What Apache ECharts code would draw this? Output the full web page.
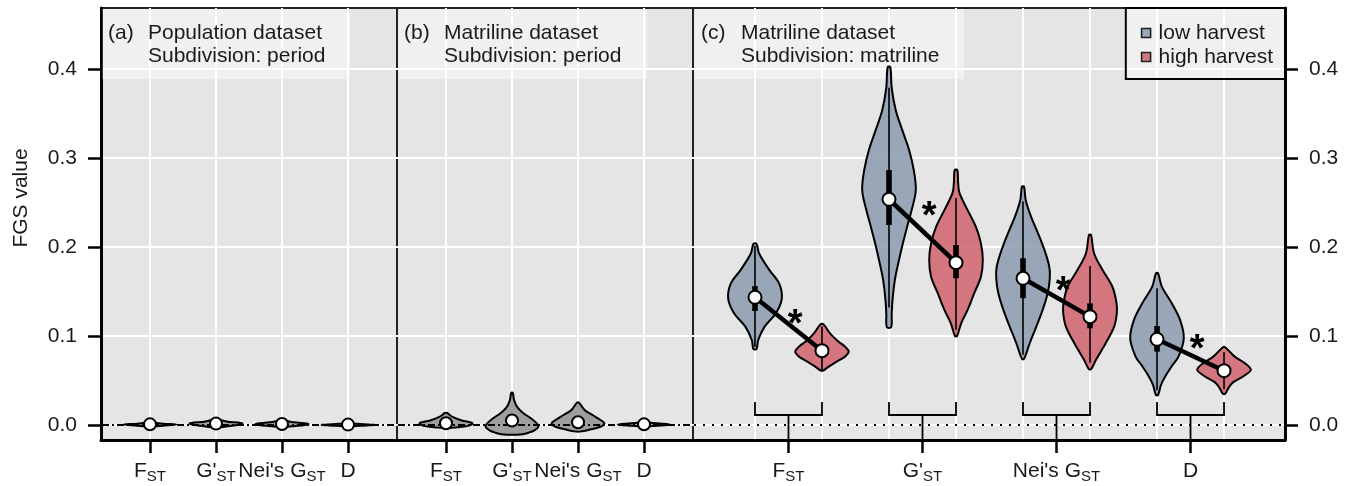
<!DOCTYPE html>
<html><head><meta charset="utf-8">
<script src="https://cdn.jsdelivr.net/npm/echarts@6/dist/echarts.min.js"></script>
<style>html,body{margin:0;padding:0;background:#fff}#chart{width:1352px;height:486px}</style>
</head><body><div id="chart"></div>
<script>
// ---------- data ----------
const categories = ['F_ST', "G'_ST", "Nei's G_ST", 'D'];
const yTicks = [0, 0.1, 0.2, 0.3, 0.4];
const legendNames = ['low harvest', 'high harvest'];
const panelTitles = [['(a)', 'Population dataset', 'Subdivision: period'],
                     ['(b)', 'Matriline dataset', 'Subdivision: period'],
                     ['(c)', 'Matriline dataset', 'Subdivision: matriline']];

// (a) Population dataset: violin outline knots (value, relative density width)
const popValues = [
  [-0.0018, -0.0008, 0.0005, 0.0015, 0.003],
  [-0.003, -0.001, 0.0015, 0.004, 0.0065],
  [-0.0022, -0.001, 0.001, 0.003, 0.0053],
  [-0.0015, -0.0008, 0.0, 0.0008, 0.0018]
];
const popWidths = [
  [0.04, 0.5, 1.0, 0.5, 0.04],
  [0.04, 0.6, 1.0, 0.4, 0.04],
  [0.04, 0.6, 1.0, 0.45, 0.04],
  [0.04, 0.5, 1.0, 0.6, 0.04]
];
const popMedians = [0.0007, 0.0015, 0.0011, 0.0004];

// (b) Matriline dataset, subdivision period
const perValues = [
  [-0.0035, -0.003, -0.001, 0.002, 0.005, 0.009, 0.0135],
  [-0.011, -0.0105, -0.009, -0.006, -0.002, 0.002, 0.0078, 0.0135, 0.02, 0.028, 0.036],
  [-0.0075, -0.0056, -0.002, 0.002, 0.0056, 0.0112, 0.0169, 0.025],
  [-0.0018, -0.001, 0.0005, 0.0018, 0.003]
];
const perWidths = [
  [0.04, 0.3, 0.85, 1.0, 0.6, 0.25, 0.04],
  [0.2, 0.4, 0.6, 0.85, 1.0, 0.93, 0.7, 0.42, 0.2, 0.08, 0.03],
  [0.05, 0.4, 0.85, 1.0, 0.85, 0.55, 0.25, 0.04],
  [0.04, 0.5, 1.0, 0.5, 0.04]
];
const perMedians = [0.002, 0.005, 0.003, 0.0007];

// (c) Matriline dataset, subdivision matriline — low harvest
const lowValues = [
  [0.0854, 0.0955, 0.1105, 0.1255, 0.142, 0.159, 0.174, 0.193, 0.2034],
  [0.110, 0.124, 0.14, 0.163, 0.185, 0.202, 0.222, 0.242, 0.264, 0.287, 0.309, 0.331, 0.354, 0.379, 0.402],
  [0.0742, 0.0918, 0.11, 0.129, 0.148, 0.1648, 0.1779, 0.1966, 0.2154, 0.234, 0.2528, 0.2678],
  [0.0337, 0.045, 0.0543, 0.066, 0.0768, 0.0974, 0.118, 0.1367, 0.1554, 0.1704]
];
const lowWidths = [
  [0.06, 0.12, 0.36, 0.78, 1.0, 0.9, 0.54, 0.15, 0.06],
  [0.08, 0.1, 0.13, 0.22, 0.37, 0.5, 0.67, 0.85, 1.0, 0.92, 0.75, 0.5, 0.25, 0.1, 0.05],
  [0.04, 0.25, 0.49, 0.73, 0.92, 1.0, 0.98, 0.8, 0.56, 0.3, 0.1, 0.04],
  [0.04, 0.15, 0.3, 0.55, 0.8, 1.0, 0.86, 0.55, 0.18, 0.04]
];
const lowMedians = [0.1435, 0.2536, 0.1648, 0.0963];
const lowQ1 = [0.128, 0.2247, 0.1424, 0.0824];
const lowQ3 = [0.156, 0.2865, 0.1873, 0.1112];
const lowMin = [0.088, 0.132, 0.079, 0.039];
const lowMax = [0.201, 0.379, 0.251, 0.1536];

// (c) high harvest
const highValues = [
  [0.061, 0.0655, 0.0711, 0.0768, 0.0824, 0.088, 0.0936, 0.103, 0.113],
  [0.1, 0.114, 0.129, 0.148, 0.1666, 0.1854, 0.204, 0.2228, 0.2416, 0.2607, 0.272, 0.2865],
  [0.0626, 0.073, 0.092, 0.1105, 0.1255, 0.1367, 0.155, 0.174, 0.193, 0.2135],
  [0.035, 0.039, 0.047, 0.0543, 0.0618, 0.0693, 0.0768, 0.0873]
];
const highWidths = [
  [0.04, 0.25, 0.55, 0.86, 1.0, 0.86, 0.62, 0.3, 0.06],
  [0.04, 0.19, 0.43, 0.68, 0.93, 1.0, 0.93, 0.74, 0.43, 0.13, 0.08, 0.05],
  [0.04, 0.22, 0.59, 0.9, 1.0, 0.99, 0.84, 0.47, 0.15, 0.04],
  [0.04, 0.12, 0.3, 0.7, 1.0, 0.78, 0.4, 0.04]
];
const highMedians = [0.0835, 0.1824, 0.1217, 0.061];
const highQ1 = [0.077, 0.1648, 0.1086, 0.056];
const highQ3 = [0.088, 0.2022, 0.1367, 0.067];
const highMin = [0.062, 0.107, 0.07, 0.04];
const highMax = [0.1105, 0.255, 0.1786, 0.082];
const starValues = [0.1213, 0.2434, 0.1591, 0.0936];

// ---------- layout / style ----------
const FONT = '"Liberation Sans", Arial, Helvetica, sans-serif';
const TXT = '#1a1a1a';
const YMIN = -0.0169, YMAX = 0.4685;
const HALF = 0.4;
const LOW_FILL = 'rgba(142,157,178,0.88)';
const HIGH_FILL = 'rgba(210,103,113,0.88)';
const GRAY_FILL = 'rgba(150,150,150,0.9)';
const abPositions = categories.map((c, i) => i + 1);
const cPositions = [1, 2, 3, 4, 5, 6, 7, 8];
const cCenters = categories.map((c, i) => 2 * i + 1.5);

function catLabel(name) {
  const parts = name.split('_');
  return parts.length > 1 ? '{m|' + parts[0] + '}{s|' + parts[1] + '}' : '{m|' + parts[0] + '}';
}
const rich = {
  m: { fontSize: 21, lineHeight: 26, fontFamily: FONT, color: TXT },
  s: { fontSize: 15, lineHeight: 12, verticalAlign: 'bottom', fontFamily: FONT, color: TXT }
};

function xAxisLabelled(grid, min, max, ticks, fmt) {
  return {
    type: 'value', gridIndex: grid, min: min, max: max, position: 'bottom',
    axisLine: { show: true, onZero: false, lineStyle: { color: '#000', width: 3 } },
    axisTick: { show: true, customValues: ticks, length: 13, lineStyle: { color: '#000', width: 2.5 } },
    axisLabel: { show: true, customValues: ticks, formatter: fmt, rich: rich, margin: 18 },
    splitLine: { show: grid < 2, lineStyle: { color: '#fff', width: 2 } }
  };
}
function yAxisDef(grid, pos, labels) {
  return {
    type: 'value', gridIndex: grid, min: YMIN, max: YMAX, position: pos,
    axisLine: { show: labels, onZero: false, lineStyle: { color: '#000', width: 3 } },
    axisTick: { show: labels, customValues: yTicks, length: 13, lineStyle: { color: '#000', width: 2.5 } },
    axisLabel: { show: labels, customValues: yTicks, formatter: v => v.toFixed(1), fontSize: 21, fontFamily: FONT, color: TXT, margin: 24 },
    splitLine: { show: true, lineStyle: { color: '#fff', width: 2 } }
  };
}

function violinRender(valuesArr, widthsArr, stats) {
  return function (params, api) {
    const x = api.value(0), i = api.value(1);
    const vals = valuesArr[i], ws = widthsArr[i];
    const pts = [];
    for (let k = 0; k < vals.length; k++) pts.push(api.coord([x + ws[k] * HALF, vals[k]]));
    for (let k = vals.length - 1; k >= 0; k--) pts.push(api.coord([x - ws[k] * HALF, vals[k]]));
    const children = [{
      type: 'polygon', shape: { points: pts, smooth: 0.35 },
      style: { fill: api.visual('color'), stroke: '#000', lineWidth: 2 }
    }];
    if (stats) {
      const a = api.coord([x, stats.min[i]]), b = api.coord([x, stats.max[i]]);
      children.push({ type: 'line', shape: { x1: a[0], y1: a[1], x2: b[0], y2: b[1] }, style: { stroke: '#000', lineWidth: 1.6 } });
      const q1 = api.coord([x, stats.q1[i]]), q3 = api.coord([x, stats.q3[i]]);
      children.push({ type: 'rect', shape: { x: q1[0] - 2.8, y: q3[1], width: 5.6, height: q1[1] - q3[1] }, style: { fill: '#000' } });
    }
    return { type: 'group', children: children };
  };
}

function zeroLine(grid, dash) {
  return {
    type: 'custom', name: 'zero' + grid, xAxisIndex: grid, yAxisIndex: grid, z: 3, silent: true,
    data: [[1, 0]],
    renderItem: function (params, api) {
      const cs = params.coordSys;
      const p = api.coord([api.value(0), api.value(1)]);
      return { type: 'line', shape: { x1: cs.x + 1, y1: p[1], x2: cs.x + cs.width - 1, y2: p[1] },
               style: { stroke: '#000', lineWidth: 2, lineDash: dash } };
    }
  };
}

const medianStyle = { color: '#fff', borderColor: '#000', borderWidth: 2, opacity: 1 };

const option = {
  animation: false,
  backgroundColor: '#fff',
  textStyle: { fontFamily: FONT },
  grid: [
    { left: 101, top: 8, width: 296, height: 432, show: true, backgroundColor: '#e5e5e5', borderColor: '#222', borderWidth: 2 },
    { left: 397, top: 8, width: 296, height: 432, show: true, backgroundColor: '#e5e5e5', borderColor: '#222', borderWidth: 2 },
    { left: 693, top: 8, width: 592, height: 432, show: true, backgroundColor: '#e5e5e5', borderColor: '#222', borderWidth: 2 }
  ],
  xAxis: [
    xAxisLabelled(0, 0.258, 4.742, abPositions, v => catLabel(categories[Math.round(v) - 1])),
    xAxisLabelled(1, 0.258, 4.742, abPositions, v => catLabel(categories[Math.round(v) - 1])),
    xAxisLabelled(2, 0.075, 8.91, cCenters, v => catLabel(categories[Math.round((v - 1.5) / 2)])),
    {
      type: 'value', gridIndex: 2, min: 0.075, max: 8.91, position: 'bottom',
      axisLine: { show: false, onZero: false }, axisLabel: { show: false },
      axisTick: { show: false, customValues: cPositions },
      splitLine: { show: true, lineStyle: { color: '#fff', width: 2 } }
    }
  ],
  yAxis: [yAxisDef(0, 'left', true), yAxisDef(1, 'left', false), yAxisDef(2, 'right', true)],
  legend: {
    data: legendNames, orient: 'vertical', right: 67, top: 8,
    icon: 'rect', itemWidth: 9, itemHeight: 9, itemGap: 2,
    padding: [14, 12, 11, 15],
    backgroundColor: 'rgba(255,255,255,0.42)', borderColor: '#000', borderWidth: 2,
    textStyle: { fontSize: 21, lineHeight: 22, color: TXT, fontFamily: FONT, padding: [0, 0, 0, 3] },
    itemStyle: { borderColor: '#222', borderWidth: 1.6 },
    selectedMode: false
  },
  graphic: [],
  series: [
    { type: 'custom', name: 'population', xAxisIndex: 0, yAxisIndex: 0, z: 2,
      itemStyle: { color: GRAY_FILL },
      data: abPositions.map((p, i) => [p, i]), renderItem: violinRender(popValues, popWidths, null) },
    { type: 'custom', name: 'matriline-period', xAxisIndex: 1, yAxisIndex: 1, z: 2,
      itemStyle: { color: GRAY_FILL },
      data: abPositions.map((p, i) => [p, i]), renderItem: violinRender(perValues, perWidths, null) },
    { type: 'custom', name: legendNames[0], xAxisIndex: 2, yAxisIndex: 2, z: 2,
      itemStyle: { color: LOW_FILL },
      data: categories.map((c, i) => [2 * i + 1, i]),
      renderItem: violinRender(lowValues, lowWidths, { min: lowMin, max: lowMax, q1: lowQ1, q3: lowQ3 }) },
    { type: 'custom', name: legendNames[1], xAxisIndex: 2, yAxisIndex: 2, z: 2,
      itemStyle: { color: HIGH_FILL },
      data: categories.map((c, i) => [2 * i + 2, i]),
      renderItem: violinRender(highValues, highWidths, { min: highMin, max: highMax, q1: highQ1, q3: highQ3 }) },
    zeroLine(0, [7, 3, 2, 3]),
    zeroLine(1, [7, 3, 2, 3]),
    zeroLine(2, [2, 7]),
    { type: 'custom', name: 'pairs', xAxisIndex: 2, yAxisIndex: 2, z: 4, silent: true,
      data: cCenters.map((c, i) => [c, i]),
      renderItem: function (params, api) {
        const c = api.value(0), i = api.value(1);
        const cs = params.coordSys;
        const bottom = cs.y + cs.height;
        const a = api.coord([c - 0.5, lowMedians[i]]), b = api.coord([c + 0.5, highMedians[i]]);
        const s = api.coord([c + 0.1, starValues[i]]);
        const xl = api.coord([c - 0.5, 0])[0], xr = api.coord([c + 0.5, 0])[0], xc = api.coord([c, 0])[0];
        const by = bottom - 25;
        return { type: 'group', children: [
          { type: 'polyline', shape: { points: [[xl, by - 13], [xl, by], [xr, by], [xr, by - 13]] },
            style: { stroke: '#000', lineWidth: 1.8, fill: null } },
          { type: 'line', shape: { x1: xc, y1: by, x2: xc, y2: bottom }, style: { stroke: '#000', lineWidth: 1.8 } },
          { type: 'line', shape: { x1: a[0], y1: a[1], x2: b[0], y2: b[1] }, style: { stroke: '#000', lineWidth: 4.5 } },
          { type: 'text', x: s[0], y: s[1] + 9,
            style: { text: '*', fontSize: 38, fontWeight: 'bold', fontFamily: FONT, fill: '#000', align: 'center', verticalAlign: 'middle' } }
        ] };
      } },
    { type: 'scatter', name: 'median-a', xAxisIndex: 0, yAxisIndex: 0, z: 5, symbol: 'circle', symbolSize: 12,
      itemStyle: medianStyle, data: abPositions.map((p, i) => [p, popMedians[i]]) },
    { type: 'scatter', name: 'median-b', xAxisIndex: 1, yAxisIndex: 1, z: 5, symbol: 'circle', symbolSize: 12,
      itemStyle: medianStyle, data: abPositions.map((p, i) => [p, perMedians[i]]) },
    { type: 'scatter', name: 'median-c', xAxisIndex: 2, yAxisIndex: 2, z: 5, symbol: 'circle', symbolSize: 13,
      itemStyle: medianStyle,
      data: categories.map((c, i) => [2 * i + 1, lowMedians[i]]).concat(categories.map((c, i) => [2 * i + 2, highMedians[i]])) }
  ]
};

// title boxes and texts (decorations)
const boxes = [[101, 350], [397, 647], [693, 964]];
const lefts = [[108, 148], [404, 444], [701, 741]];
boxes.forEach((b, k) => {
  option.graphic.push({ type: 'rect', z: 1, silent: true,
    shape: { x: b[0] + 1.5, y: 9, width: b[1] - b[0] - 1.5, height: 70 },
    style: { fill: 'rgba(255,255,255,0.42)' } });
  const t = panelTitles[k];
  option.graphic.push({ type: 'text', z: 10, x: lefts[k][0], y: 23, style: { text: t[0], font: '21px ' + FONT, fill: TXT, verticalAlign: 'top' } });
  option.graphic.push({ type: 'text', z: 10, x: lefts[k][1], y: 23, style: { text: t[1], font: '21px ' + FONT, fill: TXT, verticalAlign: 'top' } });
  option.graphic.push({ type: 'text', z: 10, x: lefts[k][1], y: 45.5, style: { text: t[2], font: '21px ' + FONT, fill: TXT, verticalAlign: 'top' } });
});
option.graphic.push({ type: 'text', z: 10, x: 21, y: 198, rotation: Math.PI / 2,
  style: { text: 'FGS value', font: '21px ' + FONT, fill: TXT, align: 'center', verticalAlign: 'middle' } });

const chart = echarts.init(document.getElementById('chart'));
chart.setOption(option);
</script></body></html>
